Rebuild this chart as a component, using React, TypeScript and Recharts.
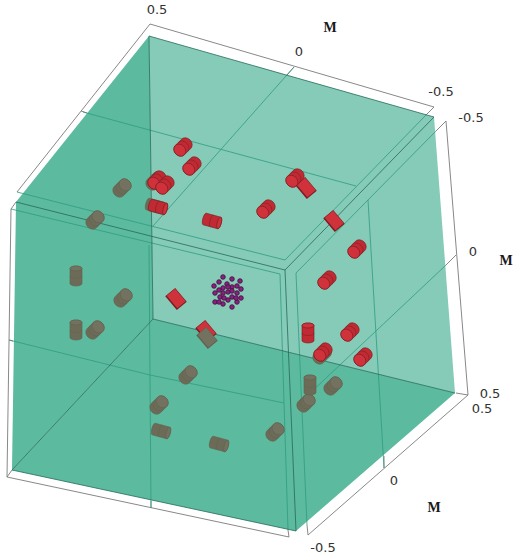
import { Scatter, ScatterChart, XAxis, YAxis } from "recharts";

type Pt = { x: number; y: number };
type Tick = Pt & { text: string };

const p = (x: number, y: number): Pt => ({ x, y });

// faces of the box
const backFace = [p(149, 36), p(434, 117), p(455, 393), p(153, 319)];
const leftFace = [p(149, 36), p(16, 202), p(12, 470), p(153, 319)];
const floorFace = [p(153, 319), p(12, 470), p(296, 531), p(455, 393)];

const boxEdges = [
  [p(149, 36), p(434, 117)],
  [p(12, 470), p(296, 531)],
  [p(149, 36), p(153, 319)],
  [p(12, 470), p(153, 319), p(455, 393)],
  [p(16, 202), p(285, 270), p(434, 117)],
  [p(285, 270), p(296, 531)],
];

const gridLines = [
  [p(83, 112), p(356, 186)],
  [p(294, 67), p(153, 226)],
  [p(17, 192), p(285, 260), p(426, 115)],
  [p(11, 209), p(280, 274), p(288, 530)],
  [p(436, 131), p(296, 273), p(307, 525)],
  [p(149, 245), p(151, 508)],
  [p(9, 340), p(150, 375), p(284, 403)],
  [p(368, 200), p(384, 468)],
  [p(446, 265), p(307, 396)],
];

const frameLines = [
  [p(17, 192), p(150, 24), p(434, 107), p(426, 115)],
  [p(436, 131), p(446, 121), p(468, 395), p(456, 393)],
  [p(468, 395), p(308, 535), p(307, 525)],
  [p(16, 202), p(11, 209), p(7, 477), p(289, 537), p(288, 530)],
  [p(7, 477), p(12, 470)],
  [p(81, 111), p(87, 113)],
  [p(294, 67), p(287, 75)],
  [p(151, 501), p(151, 508)],
  [p(456, 255), p(446, 265)],
  [p(384, 456), p(384, 468)],
  [p(9, 340), p(13, 341)],
];

const redFlat = [p(306, 188), p(334, 221), p(176, 299), p(206, 331)];
const redDiagonal = [
  p(183, 147),
  p(192, 166),
  p(157, 180),
  p(165, 185),
  p(266, 209),
  p(295, 178),
  p(357, 249),
  p(327, 280),
  p(350, 332),
  p(323, 352),
  p(363, 357),
];
const redUpright = [p(308, 333)];
const redLevel = [p(158, 207), p(212, 221)];

const grayFlat = [p(207, 338)];
const grayDiagonal = [
  p(155, 181),
  p(122, 188),
  p(95, 220),
  p(123, 298),
  p(95, 330),
  p(188, 375),
  p(159, 405),
  p(275, 432),
  p(306, 403),
  p(333, 386),
  p(322, 355),
];
const grayUpright = [p(76, 276), p(76, 330), p(310, 385)];
const grayLevel = [p(155, 206), p(161, 431), p(219, 444)];

const cluster = [
  p(223, 277), p(232, 279), p(240, 281), p(219, 282), p(227, 284), p(214, 286),
  p(223, 288), p(232, 287), p(237, 286), p(219, 290), p(228, 292), p(232, 291),
  p(241, 289), p(215, 293), p(223, 293), p(237, 293), p(232, 297), p(220, 297),
  p(228, 300), p(224, 298), p(241, 298), p(237, 302), p(215, 302), p(223, 304),
  p(232, 307), p(228, 287), p(219, 302), p(236, 298),
];

const tickLabels: Tick[] = [
  { x: 157, y: 9, text: "0.5" },
  { x: 299, y: 51, text: "0" },
  { x: 441, y: 91, text: "-0.5" },
  { x: 471, y: 117, text: "-0.5" },
  { x: 473, y: 251, text: "0" },
  { x: 490, y: 393, text: "0.5" },
  { x: 482, y: 408, text: "0.5" },
  { x: 394, y: 480, text: "0" },
  { x: 323, y: 547, text: "-0.5" },
];
const axisLabels: Tick[] = [
  { x: 330, y: 27, text: "M" },
  { x: 506, y: 260, text: "M" },
  { x: 434, y: 507, text: "M" },
];

const tones = {
  red: { body: "#bf2a33", cap: "#cf323b", edge: "#7c1a20" },
  gray: { body: "#6c6b58", cap: "#737260", edge: "#63624f" },
};

// how a cylinder looks from this camera, for each of the three axis directions
const views = {
  diagonal: { angle: -45, len: 9, r: 6.5, rx: 5.5 },
  upright: { angle: 90, len: 15, r: 6, rx: 2.5 },
  level: { angle: 15, len: 15, r: 6, rx: 2 },
};

function Cylinder({ cx, cy, tone, view }: any) {
  const c = tones[tone as keyof typeof tones];
  const { angle, len, r, rx } = views[view as keyof typeof views];
  const h = len / 2;
  const capAtStart = tone === "red" ? view !== "level" : view === "upright";
  return (
    <g transform={`translate(${cx},${cy}) rotate(${angle})`} stroke={c.edge} strokeWidth={0.6}>
      <path
        d={`M${-h},${-r} L${h},${-r} A${rx},${r} 0 0 1 ${h},${r} L${-h},${r} A${rx},${r} 0 0 1 ${-h},${-r} Z`}
        fill={c.body}
      />
      <path d={`M0,${-r} A${rx},${r} 0 0 ${capAtStart ? 1 : 0} 0,${r}`} fill="none" strokeWidth={0.5} />
      <ellipse cx={capAtStart ? -h : h} cy={0} rx={rx} ry={r} fill={c.cap} />
    </g>
  );
}

function FlatCylinder({ cx, cy, tone }: any) {
  const c = tones[tone as keyof typeof tones];
  return (
    <g transform={`translate(${cx},${cy}) rotate(50)`}>
      <rect x={-9} y={-6.5} width={18} height={13} fill={c.edge} />
      <rect x={-8.5} y={-6} width={16.5} height={11} fill={c.cap} />
    </g>
  );
}

const noMark = () => <g />;

const polygon = (fill: string) => (props: any) => (
  <polygon points={props.points.map((q: Pt) => `${q.x},${q.y}`).join(" ")} fill={fill} stroke="none" />
);

const lineSeries = (rows: Pt[][], stroke: string, width: number, name: string) =>
  rows.map((row, i) => (
    <Scatter
      key={`${name}-${i}`}
      data={row}
      shape={noMark}
      line={{ stroke, strokeWidth: width }}
      isAnimationActive={false}
    />
  ));

const cylinderSeries = (rows: Pt[], tone: string, view: string) => (
  <Scatter
    data={rows}
    isAnimationActive={false}
    shape={(s: any) => <Cylinder cx={s.cx} cy={s.cy} tone={tone} view={view} />}
  />
);

const flatSeries = (rows: Pt[], tone: string) => (
  <Scatter
    data={rows}
    isAnimationActive={false}
    shape={(s: any) => <FlatCylinder cx={s.cx} cy={s.cy} tone={tone} />}
  />
);

export default function App() {
  return (
    <div style={{ position: "absolute", left: 0, top: 0, width: 522, height: 556, background: "#fff" }}>
      <ScatterChart width={522} height={556} margin={{ top: 0, right: 0, bottom: 0, left: 0 }}>
        <XAxis type="number" dataKey="x" domain={[0, 522]} hide />
        <YAxis type="number" dataKey="y" domain={[0, 556]} reversed hide />

        <Scatter data={backFace} shape={noMark} line={polygon("#85cbb8")} isAnimationActive={false} />
        <Scatter data={leftFace} shape={noMark} line={polygon("#5cba9f")} isAnimationActive={false} />
        <Scatter data={floorFace} shape={noMark} line={polygon("#5cba9f")} isAnimationActive={false} />

        {lineSeries(frameLines, "#7a7a7a", 0.9, "frame")}
        {lineSeries(gridLines, "#2f9c80", 0.8, "grid")}
        {lineSeries(boxEdges, "#24695a", 0.8, "box")}

        {cylinderSeries(grayDiagonal, "gray", "diagonal")}
        {cylinderSeries(grayUpright, "gray", "upright")}
        {cylinderSeries(grayLevel, "gray", "level")}
        {flatSeries(redFlat, "red")}
        {cylinderSeries(redDiagonal, "red", "diagonal")}
        {cylinderSeries(redUpright, "red", "upright")}
        {cylinderSeries(redLevel, "red", "level")}
        {flatSeries(grayFlat, "gray")}

        <Scatter
          data={cluster}
          isAnimationActive={false}
          shape={(s: any) => <circle cx={s.cx} cy={s.cy} r={2.3} fill="#8a2080" stroke="#3c1238" strokeWidth={0.8} />}
        />

        <Scatter
          data={tickLabels}
          isAnimationActive={false}
          shape={(s: any) => (
            <text x={s.cx} y={s.cy} textAnchor="middle" dominantBaseline="central" fontFamily="DejaVu Sans" fontSize={13} fill="#333">
              {s.payload.text}
            </text>
          )}
        />
        <Scatter
          data={axisLabels}
          isAnimationActive={false}
          shape={(s: any) => (
            <text x={s.cx} y={s.cy} textAnchor="middle" dominantBaseline="central" fontFamily="Liberation Serif" fontWeight="bold" fontSize={14} fill="#1a1a1a">
              {s.payload.text}
            </text>
          )}
        />
      </ScatterChart>
    </div>
  );
}
